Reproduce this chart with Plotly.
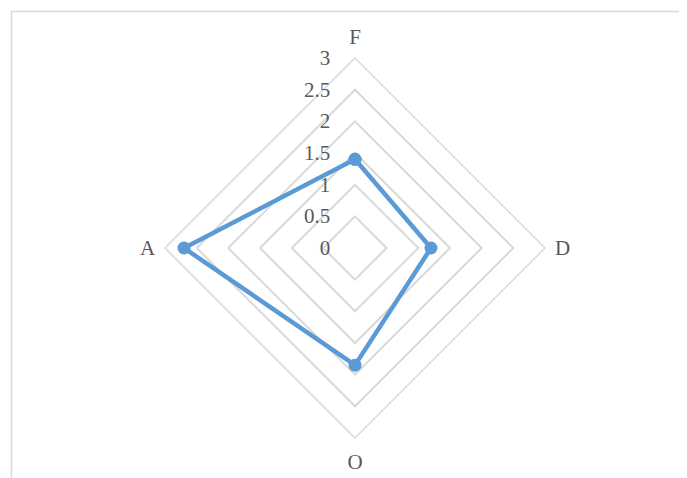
import plotly.graph_objects as go

categories = ["F", "D", "O", "A"]
values = [1.4, 1.2, 1.85, 2.7]
radial_ticks = [0, 0.5, 1, 1.5, 2, 2.5, 3]

# the page body adds an 8px offset, so positions are shifted back by it
W, H = 687, 478
off = 8
cx, cy, R = 355 - off, 248 - off, 190

fig = go.Figure(go.Scatterpolar(
    r=values + values[:1],
    theta=categories + categories[:1],
    mode="lines+markers",
    line=dict(color="#5b9bd5", width=4.5),
    marker=dict(color="#5b9bd5", size=13),
))

fig.update_layout(
    width=W, height=H,
    margin=dict(l=0, r=0, t=0, b=0),
    paper_bgcolor="white",
    showlegend=False,
    font=dict(family="Liberation Serif, Times New Roman, serif", size=21, color="#595959"),
    polar=dict(
        domain=dict(x=[(cx - R) / W, (cx + R) / W],
                    y=[1 - (cy + R) / H, 1 - (cy - R) / H]),
        bgcolor="white",
        gridshape="linear",
        angularaxis=dict(
            rotation=90, direction="clockwise",
            showgrid=False, showline=True, linecolor="#d9d9d9", linewidth=1.5,
            ticks="outside", ticklen=5, tickcolor="rgba(0,0,0,0)",
            tickfont=dict(size=21, color="#595959"),
        ),
        radialaxis=dict(
            range=[0, 3], tickvals=radial_ticks,
            ticktext=[f"{v:g}" + "\u00a0" * 4 for v in radial_ticks],
            angle=90, side="counterclockwise", tickangle=90,
            showline=False, ticks="",
            gridcolor="#d9d9d9", gridwidth=1.5,
            tickfont=dict(size=21, color="#595959"),
        ),
    ),
    shapes=[dict(type="rect", xref="paper", yref="paper",
                 x0=(11.5 - off) / W, x1=1.05, y0=-0.05, y1=1 - (11.5 - off) / H,
                 line=dict(color="#d9d9d9", width=1.5))],
)

fig.write_html("out.html")
